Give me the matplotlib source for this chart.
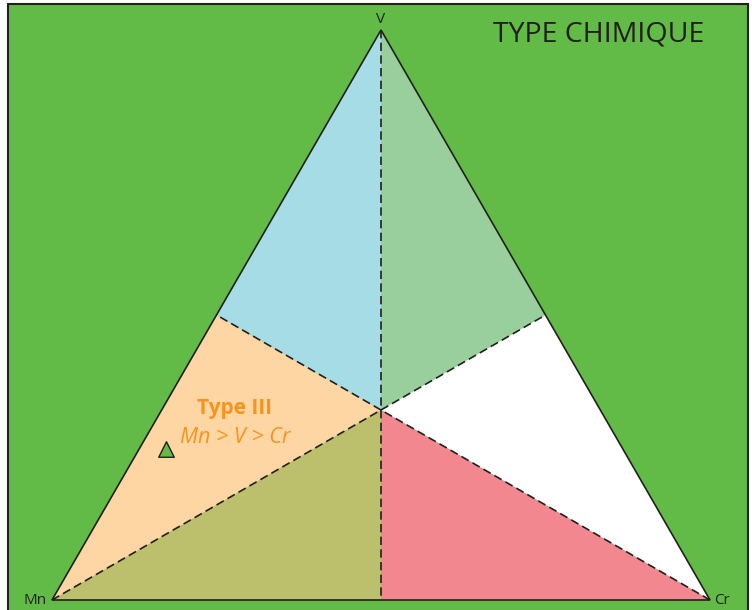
import matplotlib.pyplot as plt
from matplotlib.patches import Polygon, Rectangle
import numpy as np

plt.rcParams['font.family'] = ['Open Sans', 'DejaVu Sans']

# ternary components, order (Mn, Cr, V)
corners = ['Mn', 'Cr', 'V']
region_names = ['V > Mn > Cr', 'V > Cr > Mn', 'Cr > V > Mn',
                'Cr > Mn > V', 'Mn > Cr > V', 'Mn > V > Cr']
region_colors = ['#a6dce5', '#98cf9c', '#ffffff', '#f3878f', '#bcbf6c', '#fdd6a3']
sample_mn = [0.695]
sample_cr = [0.04]
sample_v = [0.265]

BG = '#62bb47'
INK = '#231f20'
H = np.sqrt(3) / 2


def tern(mn, cr, v):
    s = mn + cr + v
    cr, v = cr / s, v / s
    return cr + v / 2, v * H


# vertices, midpoints and centroid in ternary
Mn = (1, 0, 0)
Cr = (0, 1, 0)
V = (0, 0, 1)
C = (1, 1, 1)
mMnV = (1, 0, 1)
mVCr = (0, 1, 1)
mMnCr = (1, 1, 0)
regions = [[V, mMnV, C], [V, C, mVCr], [mVCr, C, Cr],
           [C, Cr, mMnCr], [C, mMnCr, Mn], [Mn, C, mMnV]]

fig = plt.figure(figsize=(7.52, 6.10), dpi=100)
fig.patch.set_facecolor('white')
fig.patches.append(Rectangle((8 / 752, -0.05), 740 / 752, 0.05 + 606 / 610,
                             transform=fig.transFigure, facecolor=BG,
                             edgecolor=INK, lw=1.5, zorder=-5))

ax = fig.add_axes([52 / 752, 10 / 610, 658 / 752, 570 / 610])
ax.set_xlim(0, 1)
ax.set_ylim(0, H)
ax.axis('off')

for pts, col in zip(regions, region_colors):
    xy = [tern(*p) for p in pts]
    ax.add_patch(Polygon(xy, closed=True, facecolor=col, edgecolor='none', clip_on=False))

# medians
for a, b in [(V, mMnCr), (Mn, mVCr), (Cr, mMnV)]:
    x0, y0 = tern(*a)
    x1, y1 = tern(*b)
    ax.plot([x0, x1], [y0, y1], color=INK, lw=1.2, ls=(0, (5, 2.6)), clip_on=False)

outline = [tern(*p) for p in [Mn, Cr, V]]
ax.add_patch(Polygon(outline, closed=True, fill=False, edgecolor=INK, lw=1.2,
                     clip_on=False))

# corner labels
vx, vy = tern(*V)
ax.text(vx, vy + 0.005, 'V', ha='center', va='bottom', fontsize=11, color=INK)
ax.text(tern(*Mn)[0] - 0.008, 0, 'Mn', ha='right', va='center', fontsize=11, color=INK)
ax.text(tern(*Cr)[0] + 0.007, 0, 'Cr', ha='left', va='center', fontsize=11, color=INK)

# sample point
sx, sy = tern(np.array(sample_mn), np.array(sample_cr), np.array(sample_v))
ax.scatter(sx, sy, marker='^', s=125, facecolor=BG, edgecolor=INK, lw=1,
           zorder=5, clip_on=False)

ax.text(0.278, 0.2917, 'Type III', ha='center', va='center', fontsize=15,
        fontweight='bold', color='#f7941d')
ax.text(0.278, 0.2462, region_names[5], ha='center', va='center',
        fontsize=15.5, style='italic', color='#f7941d')

fig.text(599 / 752, 1 - 35 / 610, 'TYPE CHIMIQUE', ha='center', va='center',
         fontsize=20.5, color=INK)

fig.savefig('out.png', dpi=100)
